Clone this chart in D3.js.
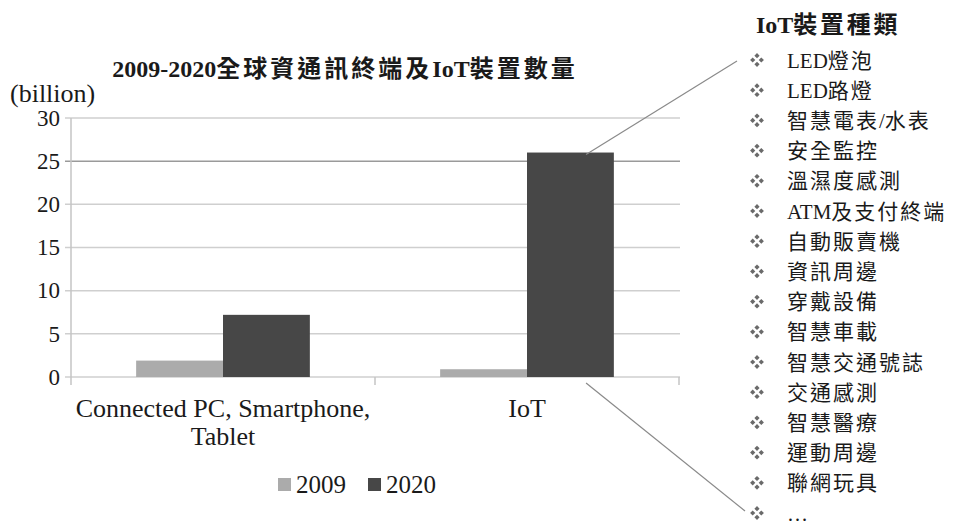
<!DOCTYPE html>
<html>
<head>
<meta charset="utf-8">
<script src="https://cdn.jsdelivr.net/npm/d3@7"></script>
<style>
  html, body { margin: 0; padding: 0; background: #fff; }
  text { font-family: "Liberation Serif", "Noto Sans CJK TC", serif; fill: #1a1a1a; }
</style>
</head>
<body>
<div id="chart"></div>
<script>
// data
const categories = ['Connected PC, Smartphone,|Tablet', 'IoT'];
const seriesNames = ['2009', '2020'];
const values2009 = [1.9, 0.9];
const values2020 = [7.2, 26];
const yTicks = [0, 5, 10, 15, 20, 25, 30];
const chartTitle = '2009-2020全球資通訊終端及IoT裝置數量';
const unitLabel = '(billion)';
const listTitle = 'IoT裝置種類';
const deviceTypes = ['LED燈泡', 'LED路燈', '智慧電表/水表', '安全監控', '溫濕度感測', 'ATM及支付終端',
  '自動販賣機', '資訊周邊', '穿戴設備', '智慧車載', '智慧交通號誌', '交通感測', '智慧醫療', '運動周邊', '聯網玩具', '…'];

const colors = { '2009': '#ababab', '2020': '#474747' };

const width = 955, height = 526;
const svg = d3.select('#chart').append('svg')
  .attr('width', width)
  .attr('height', height);

// CJK characters get extra spacing, latin runs stay tight
function spacedText(sel, str, spacing) {
  const runs = str.match(/[\u4e00-\u9fff]+|[^\u4e00-\u9fff]+/g);
  sel.selectAll('tspan')
    .data(runs)
    .enter()
    .append('tspan')
    .attr('letter-spacing', r => /[\u4e00-\u9fff]/.test(r) ? spacing : 0)
    .text(r => r);
}

// scales
const x0 = d3.scaleBand().domain(categories).range([71, 679]);
const x1 = d3.scaleBand().domain(seriesNames).range([0, x0.bandwidth()]).paddingOuter(0.75);
const y = d3.scaleLinear().domain([0, 30]).range([377, 118]);

// gridlines
svg.append('g')
  .selectAll('line')
  .data(yTicks)
  .enter()
  .append('line')
  .attr('x1', 65)
  .attr('x2', 680)
  .attr('y1', d => y(d))
  .attr('y2', d => y(d))
  .attr('stroke', d => d === 25 ? '#9a9a9a' : '#cfcfcf')
  .attr('stroke-width', 1.5);

// y axis line
svg.append('line')
  .attr('x1', x0.range()[0]).attr('x2', x0.range()[0])
  .attr('y1', y(30)).attr('y2', y(0) + 8)
  .attr('stroke', '#c4c4c4').attr('stroke-width', 1.5);

// category separators
svg.append('g')
  .selectAll('line')
  .data(categories.slice(1).map(c => x0(c)).concat([x0.range()[1]]))
  .enter()
  .append('line')
  .attr('x1', d => d).attr('x2', d => d)
  .attr('y1', y(0)).attr('y2', y(0) + 8)
  .attr('stroke', '#c4c4c4').attr('stroke-width', 1.5);

// y tick labels
svg.append('g')
  .selectAll('text')
  .data(yTicks)
  .enter()
  .append('text')
  .attr('x', 60)
  .attr('y', d => y(d))
  .attr('dy', '0.34em')
  .attr('text-anchor', 'end')
  .attr('font-size', 23)
  .text(d => d);

// bars
const rows = categories.map((c, i) => ({ cat: c, vals: [values2009[i], values2020[i]] }));
svg.append('g')
  .selectAll('g')
  .data(rows)
  .enter()
  .append('g')
  .attr('transform', d => `translate(${x0(d.cat)},0)`)
  .selectAll('rect')
  .data(d => seriesNames.map((s, j) => ({ s, v: d.vals[j] })))
  .enter()
  .append('rect')
  .attr('x', d => x1(d.s))
  .attr('y', d => y(d.v))
  .attr('width', x1.bandwidth())
  .attr('height', d => y(0) - y(d.v))
  .attr('fill', d => colors[d.s]);

// category labels
svg.append('g')
  .selectAll('text')
  .data(categories)
  .enter()
  .append('text')
  .attr('x', d => x0(d) + x0.bandwidth() / 2)
  .attr('y', 417)
  .attr('text-anchor', 'middle')
  .attr('font-size', 26)
  .each(function (d) {
    const parts = d.split('|');
    d3.select(this).selectAll('tspan')
      .data(parts)
      .enter()
      .append('tspan')
      .attr('x', x0(d) + x0.bandwidth() / 2)
      .attr('dy', (p, k) => k === 0 ? 0 : 28)
      .text(p => p);
  });

// title
svg.append('text')
  .attr('x', 345)
  .attr('y', 77)
  .attr('text-anchor', 'middle')
  .attr('font-size', 24)
  .attr('font-weight', 'bold')
  .call(spacedText, chartTitle, 3);

svg.append('text')
  .attr('x', 10)
  .attr('y', 102)
  .attr('font-size', 26)
  .text(unitLabel);

// legend
const legend = svg.append('g')
  .selectAll('g')
  .data(seriesNames)
  .enter()
  .append('g')
  .attr('transform', (d, i) => `translate(${278 + i * 90},478)`);
legend.append('rect')
  .attr('width', 13).attr('height', 13)
  .attr('fill', d => colors[d]);
legend.append('text')
  .attr('x', 18)
  .attr('y', 15)
  .attr('font-size', 25)
  .text(d => d);

// right-hand list
const listX = 757, rowY0 = 60, rowStep = 30.2;
svg.append('text')
  .attr('x', 756)
  .attr('y', 33)
  .attr('font-size', 24)
  .attr('font-weight', 'bold')
  .call(spacedText, listTitle, 2.75);

const items = svg.append('g')
  .selectAll('g')
  .data(deviceTypes)
  .enter()
  .append('g')
  .attr('transform', (d, i) => `translate(${listX},${rowY0 + i * rowStep})`);

// ❖ bullet drawn as four small diamonds
const diamond = 'M0,-2.6L2.6,0L0,2.6L-2.6,0Z';
items.selectAll('path')
  .data([[0, -4.3], [4.3, 0], [0, 4.3], [-4.3, 0]])
  .enter()
  .append('path')
  .attr('d', diamond)
  .attr('transform', d => `translate(${d[0]},${d[1]})`)
  .attr('fill', '#6a6a6a');

items.append('text')
  .attr('x', 30)
  .attr('dy', '0.36em')
  .attr('font-size', 21)
  .each(function (d) { d3.select(this).call(spacedText, d, 2); });

// leader lines from IoT 2020 bar to the list
const barX = x0('IoT') + x1('2020') + x1.bandwidth() * 0.68;
svg.append('line')
  .attr('x1', barX).attr('y1', y(values2020[1]) + 2)
  .attr('x2', listX - 20).attr('y2', rowY0 + 1)
  .attr('stroke', '#8a8a8a').attr('stroke-width', 1.2);
svg.append('line')
  .attr('x1', barX).attr('y1', y(0) + 6)
  .attr('x2', listX - 12).attr('y2', rowY0 + (deviceTypes.length - 1) * rowStep - 2)
  .attr('stroke', '#8a8a8a').attr('stroke-width', 1.2);
</script>
</body>
</html>
